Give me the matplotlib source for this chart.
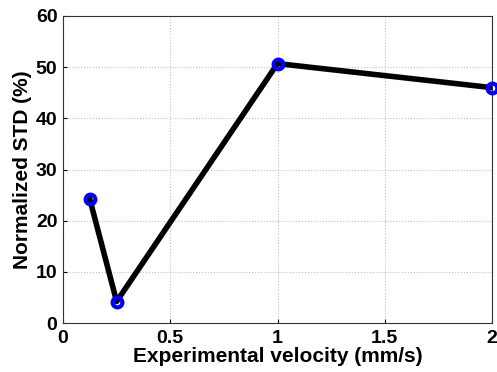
import matplotlib
matplotlib.use('Agg')
import matplotlib.pyplot as plt

# Данные
velocity = [0.125, 0.25, 1.0, 2.0]
norm_std = [24.2, 4.2, 50.7, 46.0]

plt.rcParams['font.family'] = ['Liberation Sans', 'DejaVu Sans']
plt.rcParams['font.weight'] = 'bold'

fig = plt.figure(figsize=(4.97, 3.72), dpi=100)
ax = fig.add_axes([63 / 497, 1 - 323 / 372, 429 / 497, 307 / 372])

ax.plot(velocity, norm_std, color='black', linewidth=4, zorder=3)
ax.plot(velocity, norm_std, linestyle='none', marker='o', markersize=7,
        markerfacecolor='none', markeredgecolor='#0000ff', markeredgewidth=3,
        zorder=4, clip_on=False)

ax.set_xlim(0, 2)
ax.set_ylim(0, 60)
ax.set_xticks([0, 0.5, 1, 1.5, 2])
ax.set_xticklabels(['0', '0.5', '1', '1.5', '2'])
ax.set_yticks([0, 10, 20, 30, 40, 50, 60])

ax.grid(True, color='#c0c0c0', linestyle=':', linewidth=0.8)
ax.tick_params(direction='in', labelsize=14, length=3)
ax.tick_params(axis='x', pad=5)
ax.tick_params(axis='y', pad=4)
for lab in ax.get_xticklabels() + ax.get_yticklabels():
    lab.set_fontweight('bold')
for s in ax.spines.values():
    s.set_linewidth(0.8)
    s.set_color('#333333')

ax.set_xlabel('Experimental velocity (mm/s)', fontsize=15, fontweight='bold', labelpad=0)
ax.set_ylabel('Normalized STD (%)', fontsize=15, fontweight='bold', labelpad=3)

fig.savefig('out.png', dpi=100)
